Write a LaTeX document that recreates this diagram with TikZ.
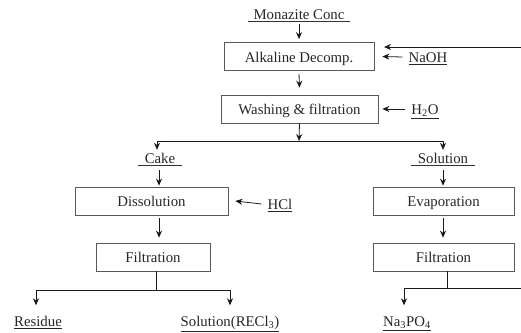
\documentclass[tikz,border=0pt]{standalone}
\usepackage{fontspec}
\setmainfont{Liberation Serif}
\usetikzlibrary{arrows.meta}
\begin{document}
\begin{tikzpicture}[x=1pt,y=-1pt,
  txt/.style={inner sep=0pt, text height=11pt, text depth=0pt, text=black!85, font=\fontsize{14.8}{17}\selectfont},
  box/.style={txt, draw=black!65, line width=0.7pt, minimum height=28pt},
  arr/.style={-{Stealth[length=7pt,width=6pt]}, line width=0.8pt, black!90},
  ln/.style={line width=0.8pt, black!90},
  ul/.style={line width=0.6pt, black!80}]
\useasboundingbox (0,0) rectangle (521,332);

% boxes
\node[box, minimum width=150pt] (alk)   at (299,56.5)  {Alkaline Decomp.};
\node[box, minimum width=157pt] (wash)  at (299.5,109) {Washing \& filtration};
\node[box, minimum width=153pt] (diss)  at (151.5,201) {Dissolution};
\node[box, minimum width=114pt] (filtL) at (153,257)   {Filtration};
\node[box, minimum width=141pt] (evap)  at (443.5,201) {Evaporation};
\node[box, minimum width=141pt] (filtR) at (443.5,257) {Filtration};

% labels
\node[txt] (mon)   at (299,13.5)  {Monazite Conc};
\node[txt] (naoh)  at (428,57)  {\underline{NaOH}};
\node[txt] (h2o)   at (425,109) {\underline{H\textsubscript{2}O}};
\node[txt] (cake)  at (160,157.5) {Cake};
\node[txt] (sol)   at (443,157.5) {Solution};
\node[txt] (hcl)   at (280,204) {\underline{HCl}};
\node[txt] (res)   at (38,321)  {\underline{Residue}};
\node[txt] (solre) at (230,321) {\underline{Solution(RECl\textsubscript{3})}};
\node[txt] (napo)  at (407,321) {\underline{Na\textsubscript{3}PO\textsubscript{4}}};

% wide underlines
\draw[ul] ([xshift=-51pt,yshift=-2.5pt]mon.south) -- ([xshift=51pt,yshift=-2.5pt]mon.south);
\draw[ul] ([xshift=-22pt,yshift=-2.5pt]cake.south) -- ([xshift=22pt,yshift=-2.5pt]cake.south);
\draw[ul] ([xshift=-32pt,yshift=-2.5pt]sol.south) -- ([xshift=32pt,yshift=-2.5pt]sol.south);

% main chain
\draw[arr] ([yshift=-5pt]mon.south) -- ([yshift=3pt]alk.north);
\draw[arr] ([yshift=-3pt]alk.south) -- ([yshift=7pt]wash.north);
\draw[arr] ([xshift=-6pt]naoh.west) -- ([xshift=8pt]alk.east);
\draw[arr] ([xshift=-6pt]h2o.west) -- ([xshift=4pt]wash.east);

% recycle line at top
\coordinate (recA) at (521,47);
\coordinate (recB) at (384,47);
\draw[arr] (recA) -- (recB);

% split after washing
\coordinate (sp) at (299,141);
\coordinate (spL) at (157,141);
\coordinate (spR) at (443,141);
\draw[arr] (wash.south) -- (sp);
\draw[ln] (spL) -- (spR);
\draw[arr] (spL) -- ([yshift=2pt]spL |- cake.north);
\draw[arr] (spR) -- ([yshift=2pt]spR |- sol.north);

% left branch
\draw[arr] ([xshift=-1pt,yshift=-7pt]cake.south) -- ([xshift=-1pt,yshift=1pt]cake.south |- diss.north);
\draw[arr] ([xshift=7.5pt,yshift=-3pt]diss.south) -- ([xshift=6pt,yshift=5pt]filtL.north);
\draw[arr] ([xshift=-6pt]hcl.west) -- ([xshift=7pt]diss.east);
\coordinate (jL) at (156,290);
\coordinate (jLa) at (36,290);
\coordinate (jLb) at (230,290);
\draw[ln] ([xshift=3pt]filtL.south) -- (jL);
\draw[ln] (jLa) -- (jLb);
\draw[arr] (jLa) -- ([yshift=10pt]jLa |- res.north);
\draw[arr] (jLb) -- ([yshift=10pt]jLb |- solre.north);

% right branch
\draw[arr] ([yshift=-7pt]sol.south) -- ([yshift=1pt]sol.south |- evap.north);
\draw[arr] ([xshift=-0.5pt,yshift=-3pt]evap.south) -- ([xshift=-0.5pt,yshift=5pt]filtR.north);
\coordinate (jR) at (447,288);
\coordinate (jRa) at (404,288);
\coordinate (jRb) at (521,288);
\draw[ln] ([xshift=3.5pt]filtR.south) -- (jR);
\draw[ln] (jRa) -- (jRb);
\draw[arr] (jRa) -- ([yshift=10pt]jRa |- napo.north);
\end{tikzpicture}
\end{document}
